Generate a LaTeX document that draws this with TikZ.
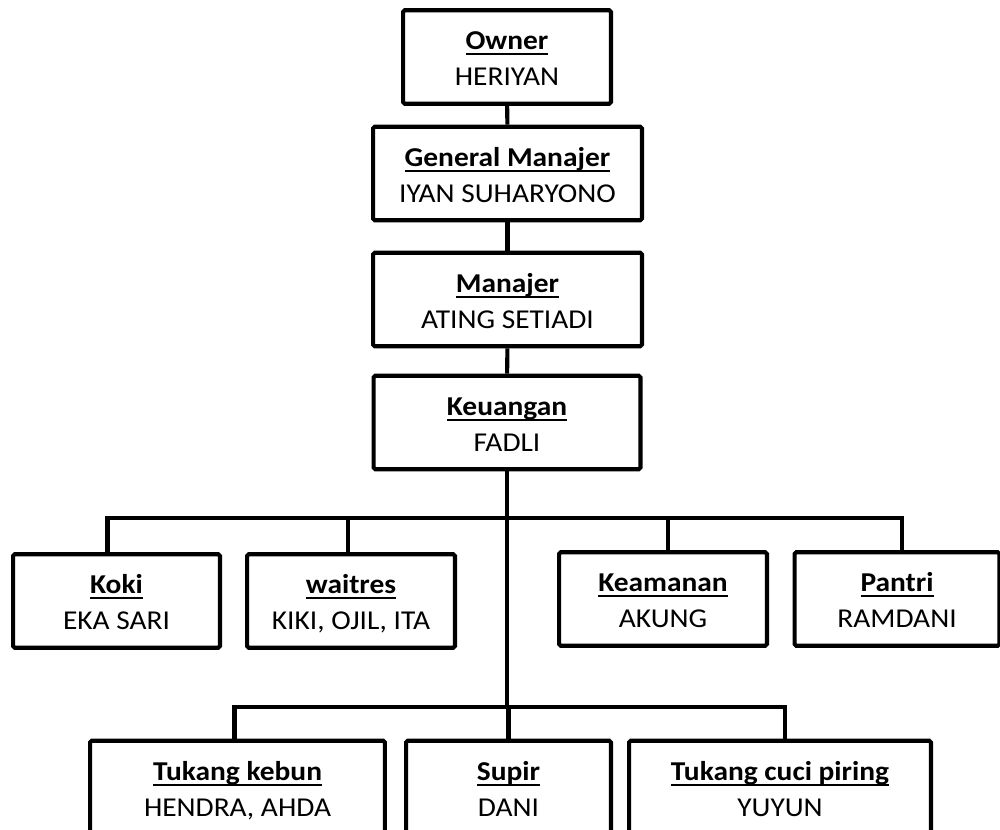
\documentclass[tikz,border=0pt]{standalone}
\usepackage{fontspec}
\setmainfont{Carlito}[FakeStretch=1.08]
\tikzset{
  jabatan/.style={draw, line width=2.3pt, rounded corners=1pt, align=center,
    inner sep=0pt, minimum height=1.87cm,
    font=\fontsize{15.5}{20.4}\selectfont},
  garis/.style={line width=2.3pt}
}
\newcommand{\garisbawah}[1]{\setbox0\hbox{#1}\rlap{\rule[-2.9pt]{\wd0}{1.1pt}}\box0}
\newcommand{\posisi}[2]{\rule{0pt}{18.4pt}\garisbawah{\textbf{#1}}\\\rule[-6pt]{0pt}{6pt}#2}
\begin{document}
\begin{tikzpicture}[x=0.02cm,y=-0.02cm]
      \useasboundingbox (0,0) rectangle (1000,830);
      \clip (0,0) rectangle (1000,830);
      \node[jabatan, minimum width=4.16cm] (owner) at (507,57) {\posisi{Owner}{HERIYAN}};
      \node[jabatan, minimum width=5.38cm] (gm) at (507.5,173.5) {\posisi{General Manajer}{IYAN SUHARYONO}};
      \node[jabatan, minimum width=5.38cm] (manajer) at (507.5,299.5) {\posisi{Manajer}{ATING SETIADI}};
      \node[jabatan, minimum width=5.34cm] (keuangan) at (507,422.5) {\posisi{Keuangan}{FADLI}};
      \node[jabatan, minimum width=4.14cm] (koki) at (116.5,601) {\posisi{Koki}{EKA SARI}};
      \node[jabatan, minimum width=4.16cm] (waitres) at (351,601) {\posisi{waitres}{KIKI, OJIL, ITA}};
      \node[jabatan, minimum width=4.16cm] (keamanan) at (663,599) {\posisi{Keamanan}{AKUNG}};
      \node[jabatan, minimum width=4.10cm] (pantri) at (897,599) {\posisi{Pantri}{RAMDANI}};
      \node[jabatan, minimum width=5.90cm] (kebun) at (237.5,787.5) {\posisi{Tukang kebun}{HENDRA, AHDA}};
      \node[jabatan, minimum width=4.10cm] (supir) at (508.5,787.5) {\posisi{Supir}{DANI}};
      \node[jabatan, minimum width=6.04cm] (cuci) at (780,787.5) {\posisi{Tukang cuci piring}{YUYUN}};
      \coordinate (cabang1) at (507,518);
      \coordinate (cabang2) at (510,707);
      \begin{scope}[garis]
        \draw (owner) -- (gm);
        \draw (gm) -- (manajer);
        \draw (manajer) -- (keuangan);
        \draw (keuangan.south) -- (keuangan.south |- cabang2);
        \draw ([xshift=-0.18cm]koki.north) |- (cabang1);
        \draw ([xshift=-0.06cm]waitres.north) |- (cabang1);
        \draw ([xshift=0.10cm]keamanan.north) |- (cabang1);
        \draw ([xshift=0.10cm]pantri.north) |- (cabang1);
        \draw ([xshift=-0.06cm]kebun.north) |- (cabang2);
        \draw (supir.north) |- (cabang2);
        \draw ([xshift=0.10cm]cuci.north) |- (cabang2);
      \end{scope}
    \end{tikzpicture}
\end{document}
